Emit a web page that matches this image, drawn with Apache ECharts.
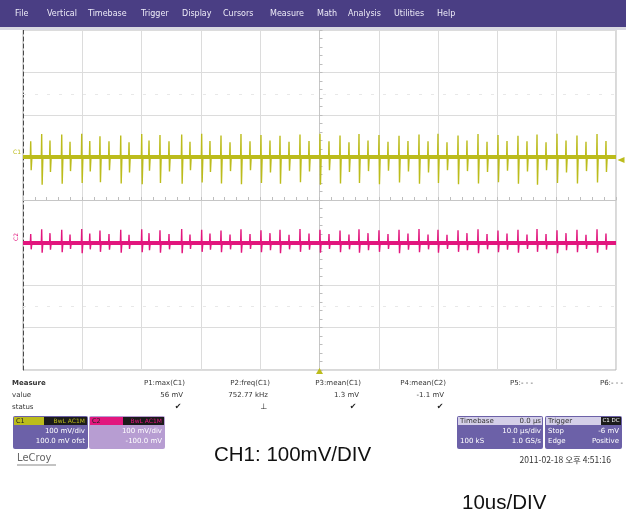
<!DOCTYPE html>
<html>
<head>
<meta charset="utf-8">
<script src="https://cdn.jsdelivr.net/npm/echarts@6/dist/echarts.min.js"></script>
<style>
  html, body { margin: 0; padding: 0; background: #ffffff; }
  #scope { width: 626px; height: 515px; }
</style>
</head>
<body>
<div id="scope"></div>
<script>
// ---- Acquisition data (time in µs from trigger, amplitudes in mV) ----
const spikeTimes = [
  -48.70, -46.85, -45.45, -43.47, -42.07, -40.10, -38.74, -37.02, -35.50, -33.52,
  -32.12, -29.98, -28.75, -26.90, -25.38, -23.24, -21.84, -19.87, -18.47, -16.61,
  -15.09, -13.24, -11.72, -9.87, -8.35, -6.66, -5.14, -3.29, -1.77, 0.08,
  1.60, 3.46, 4.97, 6.66, 8.18, 10.03, 11.55, 13.41, 14.92, 16.78,
  18.30, 19.98, 21.50, 23.36, 24.87, 26.73, 28.25, 30.10, 31.62, 33.47,
  34.99, 36.68, 38.20, 40.05, 41.57, 43.42, 44.94, 46.80, 48.31
];
const c1Peaks = [
  38, 55, 40, 54, 37, 56, 39, 50, 38, 52,
  36, 55, 40, 53, 38, 54, 37, 56, 39, 52,
  36, 55, 38, 53, 40, 51, 37, 54, 39, 56,
  38, 52, 36, 55, 40, 53, 37, 51, 39, 54,
  38, 56, 36, 52, 40, 55, 37, 53, 39, 51,
  38, 54, 36, 56, 40, 52, 37, 55, 39
];
const c1Troughs = [
  -30, -64, -34, -62, -32, -60, -33, -58, -30, -61,
  -35, -63, -31, -60, -33, -62, -30, -59, -34, -61,
  -32, -63, -30, -60, -35, -62, -31, -58, -33, -64,
  -30, -61, -34, -60, -32, -63, -31, -59, -33, -62,
  -35, -60, -30, -63, -32, -61, -34, -58, -31, -62,
  -33, -64, -30, -60, -35, -61, -32, -59, -34
];
const c2Peaks = [
  20, 31, 22, 30, 19, 32, 21, 28, 20, 30,
  18, 31, 22, 29, 20, 32, 19, 30, 21, 28,
  19, 31, 20, 29, 22, 30, 18, 32, 21, 30,
  20, 28, 19, 31, 22, 29, 20, 30, 21, 32,
  19, 30, 18, 29, 22, 31, 20, 28, 21, 30,
  19, 32, 20, 29, 22, 30, 18, 31, 21
];
const c2Troughs = [
  -16, -24, -17, -23, -15, -25, -16, -22, -17, -24,
  -15, -23, -18, -24, -16, -25, -15, -22, -17, -23,
  -16, -24, -15, -23, -18, -25, -16, -22, -17, -24,
  -15, -23, -16, -24, -18, -22, -15, -25, -17, -23,
  -16, -24, -15, -22, -18, -25, -16, -23, -17, -24,
  -15, -22, -16, -25, -18, -23, -15, -24, -17
];
const c1Mean = 1.3;
const c2Mean = -1.1;
const c1Offset = 100;     // mV display offset
const c2Offset = -100;
const triggerLevel = -6;  // mV

// Screen: 10 horizontal divisions of 10 µs, 8 vertical divisions of 100 mV
const timeMin = -50, timeMax = 50, timePerDiv = 10;
const voltMin = -400, voltMax = 400, voltPerDiv = 100;

// ---- Panel text ----
const menuItems = ['File', 'Vertical', 'Timebase', 'Trigger', 'Display', 'Cursors',
                   'Measure', 'Math', 'Analysis', 'Utilities', 'Help'];
const measureNames = ['P1:max(C1)', 'P2:freq(C1)', 'P3:mean(C1)', 'P4:mean(C2)', 'P5:- - -', 'P6:- - -'];
const measureValues = ['56 mV', '752.77 kHz', '1.3 mV', '-1.1 mV', '', ''];
const measureStatus = ['✔', '⊥', '✔', '✔', '', ''];

const C1_COLOR = '#bcbc1c';
const C2_COLOR = '#e2167e';

function buildTrace(peaks, troughs, offset, mean) {
  const pts = [[timeMin, offset + mean]];
  spikeTimes.forEach((t, i) => {
    pts.push([t - 0.06, offset + mean]);
    pts.push([t, offset + peaks[i]]);
    pts.push([t + 0.08, offset + troughs[i]]);
    pts.push([t + 0.2, offset + mean]);
  });
  pts.push([timeMax, offset + mean]);
  return pts;
}

const chart = echarts.init(document.getElementById('scope'), null, { renderer: 'canvas' });

const FONT = '"DejaVu Sans", sans-serif';
const g = [];

// menu bar
g.push({ type: 'rect', shape: { x: 0, y: 0, width: 626, height: 27 }, style: { fill: '#4a3e84' }, z: 10 });
g.push({ type: 'rect', shape: { x: 0, y: 27, width: 626, height: 3 }, style: { fill: '#d9d8e2' }, z: 10 });
const menuX = [15, 47, 88, 141, 182, 223, 270, 317, 348, 394, 437];
menuItems.forEach((m, i) => {
  g.push({ type: 'text', x: menuX[i], y: 14, z: 11,
    style: { text: m, font: '8px ' + FONT, fill: '#eeecf8', verticalAlign: 'middle' } });
});

// measurement table
const rowY = [383, 395, 407];
['Measure', 'value', 'status'].forEach((s, i) => {
  g.push({ type: 'text', x: 12, y: rowY[i], style: { text: s, font: (i === 0 ? 'bold ' : '') + '7px ' + FONT, fill: '#333', verticalAlign: 'middle' } });
});
const colRight = [185, 270, 361, 446, 533, 623];
const statusX = [178, 264, 353, 440];
measureNames.forEach((s, i) => {
  g.push({ type: 'text', x: colRight[i], y: rowY[0], style: { text: s, font: '7px ' + FONT, fill: '#333', align: 'right', verticalAlign: 'middle' } });
  if (measureValues[i]) {
    g.push({ type: 'text', x: colRight[i] - 2, y: rowY[1], style: { text: measureValues[i], font: '7px ' + FONT, fill: '#333', align: 'right', verticalAlign: 'middle' } });
  }
  if (measureStatus[i]) {
    g.push({ type: 'text', x: statusX[i], y: rowY[2], style: { text: measureStatus[i], font: '8px ' + FONT, fill: '#222', align: 'center', verticalAlign: 'middle' } });
  }
});

// channel / timebase descriptor boxes
function box(x, w, fill) {
  g.push({ type: 'rect', shape: { x: x, y: 416, width: w, height: 33, r: 2 }, style: { fill: fill } });
}
function txt(x, y, s, fill, align, size) {
  g.push({ type: 'text', x: x, y: y, style: { text: s, font: (size || 7) + 'px ' + FONT, fill: fill, align: align || 'left', verticalAlign: 'middle' } });
}
box(13, 75, '#6c61a8');
g.push({ type: 'rect', shape: { x: 14, y: 417, width: 30, height: 8 }, style: { fill: C1_COLOR } });
g.push({ type: 'rect', shape: { x: 44, y: 417, width: 43, height: 8 }, style: { fill: '#1b1b1b' } });
txt(16, 421, 'C1', '#222', 'left', 6.5);
txt(85, 421, 'BwL AC1M', C1_COLOR, 'right', 6);
txt(85, 431, '100 mV/div', '#ffffff', 'right');
txt(85, 441, '100.0 mV ofst', '#ffffff', 'right');

box(89, 76, '#b79dd2');
g.push({ type: 'rect', shape: { x: 90, y: 417, width: 33, height: 8 }, style: { fill: C2_COLOR } });
g.push({ type: 'rect', shape: { x: 123, y: 417, width: 41, height: 8 }, style: { fill: '#1b1b1b' } });
txt(92, 421, 'C2', '#222', 'left', 6.5);
txt(162, 421, 'BwL AC1M', C2_COLOR, 'right', 6);
txt(162, 431, '100 mV/div', '#ffffff', 'right');
txt(162, 441, '-100.0 mV', '#ffffff', 'right');

box(457, 86, '#6c61a8');
g.push({ type: 'rect', shape: { x: 458, y: 417, width: 84, height: 8 }, style: { fill: '#d4cfe8' } });
txt(460, 421, 'Timebase', '#333');
txt(541, 421, '0.0 µs', '#333', 'right');
txt(541, 431, '10.0 µs/div', '#ffffff', 'right');
txt(460, 441, '100 kS', '#ffffff');
txt(541, 441, '1.0 GS/s', '#ffffff', 'right');

box(545, 77, '#6c61a8');
g.push({ type: 'rect', shape: { x: 546, y: 417, width: 75, height: 8 }, style: { fill: '#d4cfe8' } });
g.push({ type: 'rect', shape: { x: 601, y: 417, width: 20, height: 8 }, style: { fill: '#1b1b1b' } });
txt(548, 421, 'Trigger', '#333');
txt(611, 421, 'C1 DC', '#ffffff', 'center', 5.5);
txt(548, 431, 'Stop', '#ffffff');
txt(619, 431, '-6 mV', '#ffffff', 'right');
txt(548, 441, 'Edge', '#ffffff');
txt(619, 441, 'Positive', '#ffffff', 'right');

// footer
g.push({ type: 'text', x: 611, y: 460, style: { text: '2011-02-18 오후 4:51:16', font: '8.5px "Noto Sans CJK KR", ' + FONT, fill: '#333', align: 'right', verticalAlign: 'middle' } });
g.push({ type: 'text', x: 17, y: 458, style: { text: 'LeCroy', font: '10px ' + FONT, fill: '#666', verticalAlign: 'middle' } });
g.push({ type: 'line', shape: { x1: 17, y1: 465, x2: 56, y2: 465 }, style: { stroke: '#888', lineWidth: 1 } });
g.push({ type: 'text', x: 214, y: 455, style: { text: 'CH1: 100mV/DIV', font: '20.5px "Liberation Sans", Arial, sans-serif', fill: '#111', verticalAlign: 'middle' } });
g.push({ type: 'text', x: 462, y: 503, style: { text: '10us/DIV', font: '20.5px "Liberation Sans", Arial, sans-serif', fill: '#111', verticalAlign: 'middle' } });

// channel markers at the left edge
g.push({ type: 'text', x: 17, y: 152, style: { text: 'C1', font: '6px ' + FONT, fill: C1_COLOR, align: 'center', verticalAlign: 'middle' } });
g.push({ type: 'text', x: 16, y: 237, rotation: Math.PI / 2, style: { text: 'C2', font: '6px ' + FONT, fill: C2_COLOR, align: 'center', verticalAlign: 'middle' } });

const option = {
  animation: false,
  backgroundColor: '#ffffff',
  grid: { left: 23, top: 30, width: 593, height: 340, show: true, borderColor: '#b2b2b2', borderWidth: 1, backgroundColor: '#ffffff' },
  xAxis: [{
    type: 'value', min: timeMin, max: timeMax, interval: timePerDiv,
    axisLine: { show: true, onZero: true, lineStyle: { color: '#c6c6c6' } },
    axisTick: { show: true, inside: true, length: 3, lineStyle: { color: '#bdbdbd' } },
    minorTick: { show: true, splitNumber: 5, length: 3, lineStyle: { color: '#bdbdbd' } },
    axisLabel: { show: false },
    splitLine: { show: true, lineStyle: { color: '#dcdcdc' } }
  }],
  yAxis: [{
    type: 'value', min: voltMin, max: voltMax, interval: voltPerDiv,
    axisLine: { show: true, onZero: true, lineStyle: { color: '#c6c6c6' } },
    axisTick: { show: true, inside: true, length: 3, lineStyle: { color: '#bdbdbd' } },
    minorTick: { show: true, splitNumber: 5, length: 3, lineStyle: { color: '#bdbdbd' } },
    axisLabel: { show: false },
    splitLine: { show: true, lineStyle: { color: '#dcdcdc' } }
  }, {
    type: 'value', min: voltMin, max: voltMax, interval: voltPerDiv, position: 'left',
    axisLine: { show: true, onZero: false, lineStyle: { color: '#4a4a4a', type: [4, 3], width: 1 } },
    axisTick: { show: false }, axisLabel: { show: false }, splitLine: { show: false }
  }],
  series: [
    {
      name: 'C1 level', type: 'line', silent: true, showSymbol: false,
      data: [[timeMin, c1Offset + c1Mean], [timeMax, c1Offset + c1Mean]],
      lineStyle: { color: C1_COLOR, width: 4 },
      markLine: {
        silent: true, symbol: 'none', label: { show: false },
        lineStyle: { color: '#e8e8e8', type: [3, 9], width: 1 },
        data: [{ yAxis: 250 }, { yAxis: -250 }]
      },
      markPoint: {
        silent: true, label: { show: false },
        data: [
          { coord: [0, voltMin], symbol: 'triangle', symbolSize: [7, 6], symbolOffset: [0, 1], itemStyle: { color: C1_COLOR } },
          { coord: [timeMax, c1Offset + triggerLevel], symbol: 'triangle', symbolRotate: 90, symbolSize: [6, 7], symbolOffset: [5, 0], itemStyle: { color: C1_COLOR } }
        ]
      }
    },
    {
      name: 'C1', type: 'line', silent: true, showSymbol: false,
      data: buildTrace(c1Peaks, c1Troughs, c1Offset, c1Mean),
      lineStyle: { color: C1_COLOR, width: 1.4 }
    },
    {
      name: 'C2 level', type: 'line', silent: true, showSymbol: false,
      data: [[timeMin, c2Offset + c2Mean], [timeMax, c2Offset + c2Mean]],
      lineStyle: { color: C2_COLOR, width: 4 }
    },
    {
      name: 'C2', type: 'line', silent: true, showSymbol: false,
      data: buildTrace(c2Peaks, c2Troughs, c2Offset, c2Mean),
      lineStyle: { color: C2_COLOR, width: 1.4 }
    }
  ],
  graphic: { elements: g }
};

chart.setOption(option);
</script>
</body>
</html>
